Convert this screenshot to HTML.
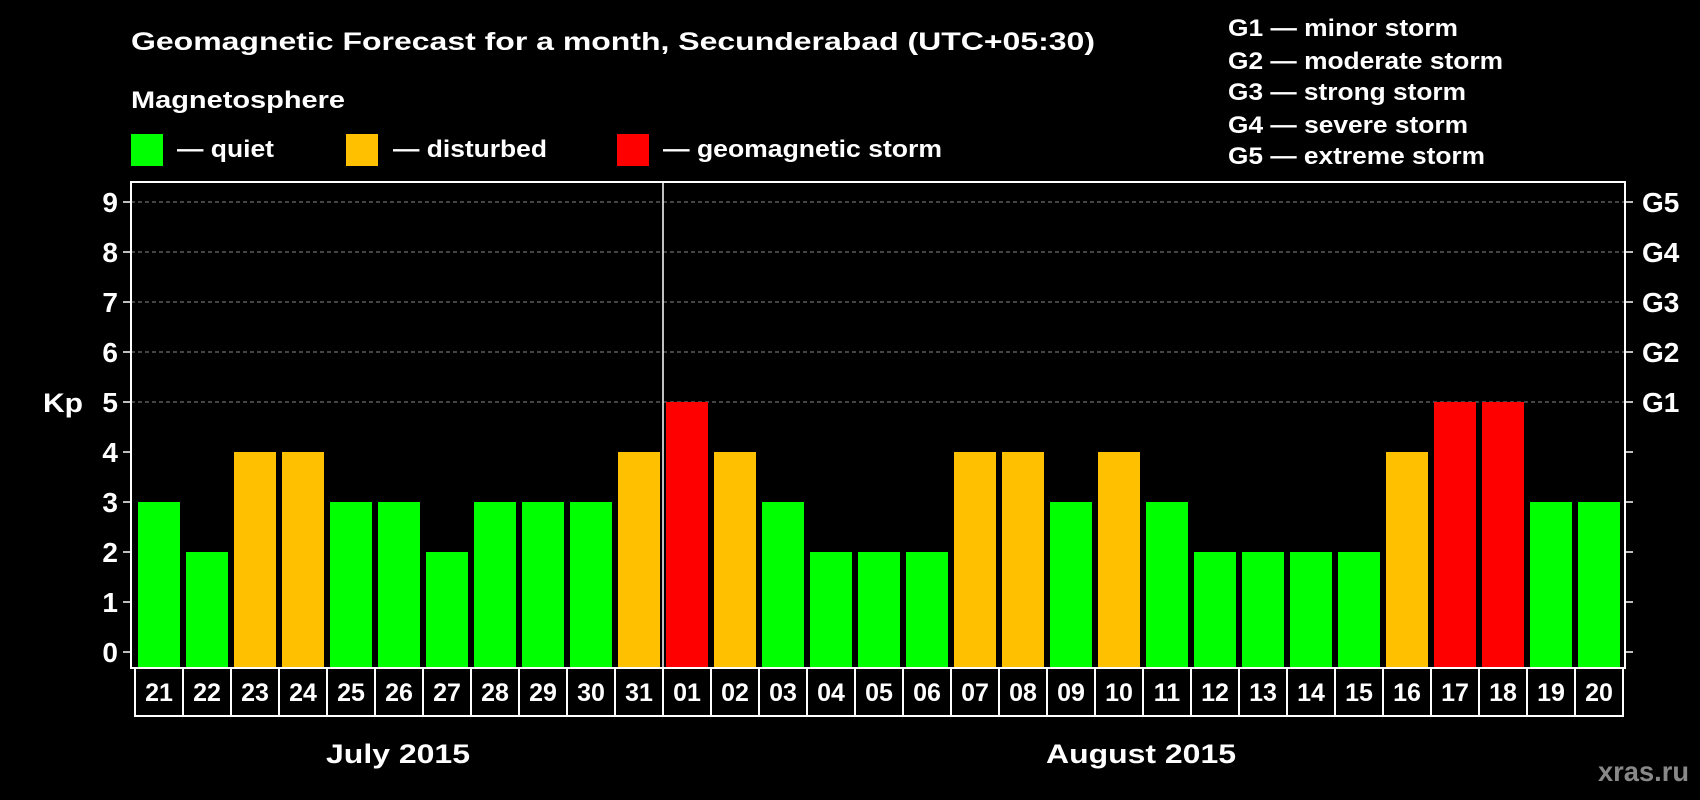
<!DOCTYPE html>
<html><head><meta charset="utf-8"><style>
body{margin:0;background:#000;width:1700px;height:800px;overflow:hidden}
svg{display:block;font-family:"Liberation Sans",sans-serif;font-weight:bold}
</style></head><body>
<svg id="c" width="1700" height="800">
<text x="131" y="50" fill="#fff" font-size="25" textLength="964" lengthAdjust="spacingAndGlyphs">Geomagnetic Forecast for a month, Secunderabad (UTC+05:30)</text>
<text x="131" y="108" fill="#fff" font-size="24" textLength="214" lengthAdjust="spacingAndGlyphs">Magnetosphere</text>
<rect x="131" y="134" width="32" height="32" fill="#00ff00"/>
<text x="177" y="157" fill="#fff" font-size="24" textLength="97" lengthAdjust="spacingAndGlyphs">— quiet</text>
<rect x="346" y="134" width="32" height="32" fill="#ffc000"/>
<text x="393" y="157" fill="#fff" font-size="24" textLength="154" lengthAdjust="spacingAndGlyphs">— disturbed</text>
<rect x="617" y="134" width="32" height="32" fill="#ff0000"/>
<text x="663" y="157" fill="#fff" font-size="24" textLength="279" lengthAdjust="spacingAndGlyphs">— geomagnetic storm</text>
<g fill="#fff" font-size="24">
<text x="1228" y="36" textLength="230" lengthAdjust="spacingAndGlyphs">G1 — minor storm</text>
<text x="1228" y="69" textLength="275" lengthAdjust="spacingAndGlyphs">G2 — moderate storm</text>
<text x="1228" y="100" textLength="238" lengthAdjust="spacingAndGlyphs">G3 — strong storm</text>
<text x="1228" y="133" textLength="240" lengthAdjust="spacingAndGlyphs">G4 — severe storm</text>
<text x="1228" y="164" textLength="257" lengthAdjust="spacingAndGlyphs">G5 — extreme storm</text>
</g>
<text x="43" y="412" fill="#fff" font-size="27" textLength="40" lengthAdjust="spacingAndGlyphs">Kp</text>
<text x="326" y="763" fill="#fff" font-size="27" textLength="144" lengthAdjust="spacingAndGlyphs">July 2015</text>
<text x="1046" y="763" fill="#fff" font-size="27" textLength="190" lengthAdjust="spacingAndGlyphs">August 2015</text>
<text x="1598" y="781" fill="#888" font-size="28" textLength="91" lengthAdjust="spacingAndGlyphs">xras.ru</text>
<g id="plot"></g>
</svg>
<script>
const days=["21","22","23","24","25","26","27","28","29","30","31","01","02","03","04","05","06","07","08","09","10","11","12","13","14","15","16","17","18","19","20"];
const kp=[3,2,4,4,3,3,2,3,3,3,4,5,4,3,2,2,2,4,4,3,4,3,2,2,2,2,4,5,5,3,3];
const yTicks=[0,1,2,3,4,5,6,7,8,9];
const gLabels=["G1","G2","G3","G4","G5"];
const NS="http://www.w3.org/2000/svg";
const g=document.getElementById('plot');
const L=131,R=1625,T=182,B=668;
const y=v=>652-v*50;
const x=i=>138+i*48;
function mk(t,a){const e=document.createElementNS(NS,t);for(const k in a)e.setAttribute(k,a[k]);g.appendChild(e);return e;}
yTicks.forEach(v=>{
  if(v>=5){const l=mk('line',{x1:L,x2:R,y1:y(v),y2:y(v),stroke:'#888','stroke-dasharray':'4,3','stroke-width':1});
  
  }
  mk('line',{x1:L-8,x2:L,y1:y(v),y2:y(v),stroke:'#fff','stroke-width':1.5});
  mk('line',{x1:R,x2:R+8,y1:y(v),y2:y(v),stroke:'#fff','stroke-width':1.5});
  const t=mk('text',{x:118,y:y(v)+10,fill:'#fff','font-size':28,'text-anchor':'end'});t.textContent=v;
  
  
});
gLabels.forEach((s,i)=>{const t=mk('text',{x:1642,y:y(5+i)+10,fill:'#fff','font-size':28});t.textContent=s;
  
  });
kp.forEach((v,i)=>{
  const c=v>=5?'#ff0000':v>=4?'#ffc000':'#00ff00';
  const r=mk('rect',{x:x(i),y:y(v),width:42,height:B-y(v),fill:c});
  
  
  mk('rect',{x:x(i)-3,y:B,width:48,height:48,fill:'none',stroke:'#fff','stroke-width':2});
  const t=mk('text',{x:x(i)+21,y:B+33,fill:'#fff','font-size':25,'text-anchor':'middle'});t.textContent=days[i];
  
  
});
const f=mk('rect',{x:L,y:T,width:R-L,height:B-T,fill:'none',stroke:'#fff','stroke-width':2});


const sep=mk('line',{x1:x(11)-3,x2:x(11)-3,y1:T,y2:B,stroke:'#fff','stroke-width':1.5});


</script>
</body></html>
